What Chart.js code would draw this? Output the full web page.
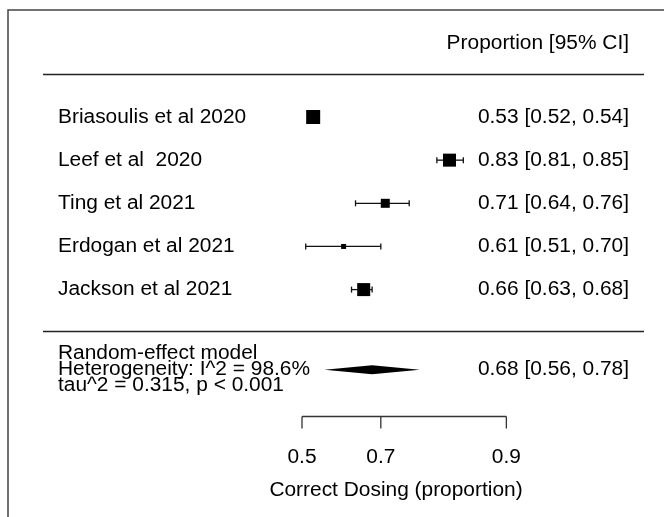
<!DOCTYPE html>
<html>
<head>
<meta charset="utf-8">
<script src="https://cdn.jsdelivr.net/npm/chart.js@4"></script>
<style>
  body { margin: 0; background: #fff; }
  #forest { display: block; }
</style>
</head>
<body>
<canvas id="forest" width="664" height="517"></canvas>
<script>
// study data (proportions)
let studies = ["Briasoulis et al 2020", "Leef et al  2020", "Ting et al 2021", "Erdogan et al 2021", "Jackson et al 2021"];
let estimates = [0.53, 0.83, 0.71, 0.61, 0.66];
let lowers = [0.52, 0.81, 0.64, 0.51, 0.63];
let uppers = [0.54, 0.85, 0.76, 0.70, 0.68];

// pooled random-effects result
let pooledEstimate = 0.68;
let pooledLower = 0.56;
let pooledUpper = 0.78;
let summaryLines = ["Random-effect model", "Heterogeneity: I^2 = 98.6%", "tau^2 = 0.315, p < 0.001"];

// axis
let tickValues = [0.5, 0.7, 0.9];
let xTitle = "Correct Dosing (proportion)";
let header = "Proportion [95% CI]";

// box sides in px (weights)
let boxSides = [14, 13, 9, 5, 13];

function logit(p) {
  return Math.log(p / (1 - p));
}

function ciText(e, l, u) {
  return e.toFixed(2) + " [" + l.toFixed(2) + ", " + u.toFixed(2) + "]";
}

const FONT = '20px "Liberation Sans", Arial, sans-serif';
const STRETCH = 1.045;
const INK = "#000";

function drawText(ctx, text, x, y, align) {
  ctx.save();
  ctx.translate(x, y);
  ctx.scale(STRETCH, 1);
  ctx.font = FONT;
  ctx.fillStyle = INK;
  ctx.textAlign = align;
  ctx.textBaseline = "middle";
  ctx.fillText(text, 0, 0);
  ctx.restore();
}

let forestPlugin = {
  id: "forest",
  afterDatasetsDraw(chart) {
    let ctx = chart.ctx;
    let xs = chart.scales.x;
    let ys = chart.scales.y;
    let leftX = 58;
    let rightX = 629;

    // frame
    ctx.save();
    ctx.strokeStyle = "#444";
    ctx.lineWidth = 1.5;
    ctx.strokeRect(8, 10, 700, 600);

    // header + rules
    drawText(ctx, header, rightX, ys.getPixelForValue(-0.71), "right");
    ctx.strokeStyle = "#222";
    ctx.lineWidth = 1.3;
    [0, 5.97].forEach(function (r) {
      let y = Math.round(ys.getPixelForValue(r)) + 0.5;
      ctx.beginPath();
      ctx.moveTo(43, y);
      ctx.lineTo(644, y);
      ctx.stroke();
    });

    // study labels and CI text
    for (let i = 0; i < studies.length; i++) {
      let y = ys.getPixelForValue(i + 1);
      drawText(ctx, studies[i], leftX, y, "left");
      drawText(ctx, ciText(estimates[i], lowers[i], uppers[i]), rightX, y, "right");
    }

    // pooled diamond
    let sy = ys.getPixelForValue(6.86);
    ctx.fillStyle = "#000";
    ctx.beginPath();
    ctx.moveTo(xs.getPixelForValue(logit(pooledLower)), sy);
    ctx.lineTo(xs.getPixelForValue(logit(pooledEstimate)), sy - 4.5);
    ctx.lineTo(xs.getPixelForValue(logit(pooledUpper)), sy);
    ctx.lineTo(xs.getPixelForValue(logit(pooledEstimate)), sy + 4.5);
    ctx.closePath();
    ctx.fill();
    summaryLines.forEach(function (t, k) {
      drawText(ctx, t, leftX, sy + (k - 1) * 16, "left");
    });
    drawText(ctx, ciText(pooledEstimate, pooledLower, pooledUpper), rightX, sy, "right");

    // x axis (R style: line between first and last tick, ticks hanging down)
    let ay = Math.round(ys.getPixelForValue(7.93)) + 0.5;
    let tickLen = 12;
    ctx.strokeStyle = "#333";
    ctx.lineWidth = 1.3;
    ctx.beginPath();
    ctx.moveTo(xs.getPixelForValue(logit(tickValues[0])), ay);
    ctx.lineTo(xs.getPixelForValue(logit(tickValues[tickValues.length - 1])), ay);
    tickValues.forEach(function (v) {
      let tx = xs.getPixelForValue(logit(v));
      ctx.moveTo(tx, ay);
      ctx.lineTo(tx, ay + tickLen);
    });
    ctx.stroke();
    tickValues.forEach(function (v) {
      drawText(ctx, v.toFixed(1), xs.getPixelForValue(logit(v)), ys.getPixelForValue(8.9), "center");
    });
    drawText(ctx, xTitle, 396, ys.getPixelForValue(9.65), "center");
    ctx.restore();
  }
};

window.onload = function () {
  getGraph();
};

function getGraph() {
  let boxes = [];
  let whiskers = [];
  for (let i = 0; i < studies.length; i++) {
    boxes.push({ x: logit(estimates[i]), y: i + 1 });
    whiskers.push({
      data: [{ x: logit(lowers[i]), y: i + 1 }, { x: logit(uppers[i]), y: i + 1 }],
      showLine: true,
      borderColor: "#111",
      borderWidth: 1.3,
      pointStyle: "line",
      rotation: 90,
      pointRadius: 3,
      pointBorderWidth: 1.3,
      pointBorderColor: "#111",
      pointBackgroundColor: "#111"
    });
  }

  let ctx = document.getElementById("forest").getContext("2d");
  new Chart(ctx, {
    type: "scatter",
    data: {
      datasets: [
        {
          data: boxes,
          pointStyle: "rect",
          pointRadius: boxSides.map(function (s) { return s / Math.SQRT2; }),
          backgroundColor: "#000",
          borderWidth: 0
        }
      ].concat(whiskers)
    },
    options: {
      responsive: false,
      animation: false,
      layout: { autoPadding: false, padding: 0 },
      plugins: { legend: { display: false }, tooltip: { enabled: false } },
      scales: {
        x: { type: "linear", display: false, min: -3.247, max: 3.892 },
        y: { type: "linear", display: false, reverse: true, min: -1.7115, max: 10.27 }
      }
    },
    plugins: [forestPlugin]
  });
}
</script>
</body>
</html>
